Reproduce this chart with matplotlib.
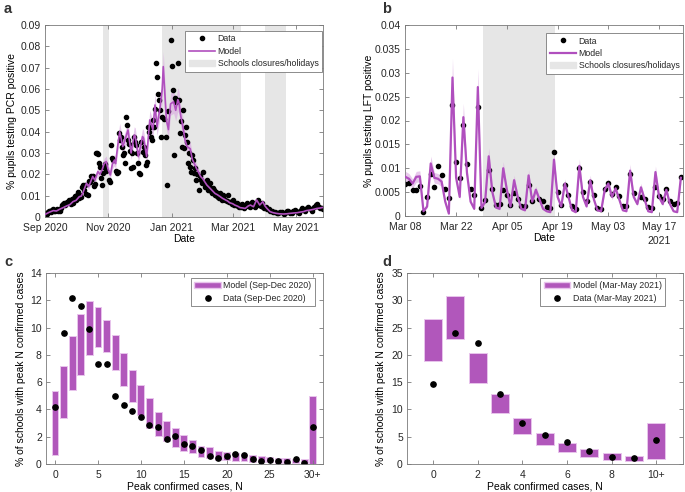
import matplotlib
matplotlib.use('Agg')
import matplotlib.pyplot as plt
import matplotlib.dates as mdates
from matplotlib.lines import Line2D
from matplotlib.patches import Patch
from matplotlib.ticker import FormatStrFormatter
from matplotlib.transforms import blended_transform_factory
import numpy as np
from datetime import datetime

plt.rcParams['font.family'] = ['Liberation Sans', 'DejaVu Sans']
plt.rcParams['font.size'] = 7.5
plt.rcParams['text.color'] = '#262626'

# ---- panel a: PCR positivity (days since 1 Sep 2020) ----
pcr_day = [0, 1, 2, 3, 4, 5, 6, 7, 8, 9, 10, 11, 12, 13, 14, 15, 16, 17, 18, 19,
           20, 21, 22, 23, 24, 25, 26, 27, 28, 29, 30, 31, 32, 33, 34, 35, 36, 37, 38, 39,
           40, 41, 42, 43, 44, 45, 46, 47, 48, 49, 50, 51, 52, 53, 54, 55, 56, 57, 58, 59,
           62, 63, 64, 65, 66, 68, 69, 70, 71, 72, 73, 74, 75, 76, 77, 78, 79, 80, 81, 82,
           83, 84, 85, 86, 87, 88, 89, 90, 91, 92, 93, 94, 95, 96, 97, 98, 99, 100, 101, 102,
           103, 104, 105, 106, 107, 108, 109, 110, 111, 112, 113, 115, 117, 118, 119, 121, 122, 123, 124, 125,
           126, 128, 129, 130, 131, 132, 133, 134, 135, 136, 137, 138, 139, 140, 141, 142, 143, 144, 145, 146,
           147, 148, 149, 150, 151, 152, 153, 154, 155, 156, 157, 158, 159, 160, 161, 162, 163, 164, 165, 166,
           167, 168, 169, 170, 171, 172, 173, 174, 175, 176, 177, 178, 179, 180, 181, 182, 183, 184, 185, 186,
           187, 188, 189, 190, 191, 192, 193, 194, 195, 196, 197, 198, 199, 200, 201, 202, 203, 204, 205, 206,
           207, 208, 209, 210, 211, 213, 214, 216, 217, 219, 220, 222, 224, 225, 227, 228, 230, 231, 233, 234,
           236, 238, 239, 241, 242, 244, 245, 247, 248, 250, 251, 253, 254, 256, 257, 259, 261, 262, 264, 265,
           267, 268]
pcr_val = [0.0012, 0.0017, 0.0015, 0.0022, 0.0030, 0.0027, 0.0025, 0.0032, 0.0036, 0.0030,
           0.0028, 0.0033, 0.0038, 0.0026, 0.0030, 0.0042, 0.0055, 0.0060, 0.0064, 0.0058,
           0.0066, 0.0072, 0.0070, 0.0080, 0.0077, 0.0062, 0.0085, 0.0067, 0.0090, 0.0098,
           0.0080, 0.0105, 0.0115, 0.0088, 0.0102, 0.0095, 0.0140, 0.0150, 0.0127, 0.0148,
           0.0110, 0.0103, 0.0170, 0.0166, 0.0190, 0.0180, 0.0190, 0.0145, 0.0153, 0.0302,
           0.0298, 0.0294, 0.0252, 0.0235, 0.0185, 0.0150, 0.0205, 0.0236, 0.0250, 0.0215,
           0.0175, 0.0163, 0.0338, 0.0275, 0.0265, 0.0215, 0.0205, 0.0210, 0.0392, 0.0360,
           0.0377, 0.0330, 0.0290, 0.0300, 0.0252, 0.0470, 0.0431, 0.0360, 0.0340, 0.0310,
           0.0228, 0.0298, 0.0236, 0.0373, 0.0350, 0.0338, 0.0300, 0.0255, 0.0208, 0.0202,
           0.0353, 0.0306, 0.0330, 0.0290, 0.0244, 0.0260, 0.0420, 0.0400, 0.0423, 0.0377,
           0.0360, 0.0455, 0.0420, 0.0505, 0.0720, 0.0658, 0.0577, 0.0548, 0.0502, 0.0373,
           0.0470, 0.0460, 0.0377, 0.0150, 0.0498, 0.0830, 0.0710, 0.0595, 0.0290, 0.0560,
           0.0540, 0.0723, 0.0548, 0.0392, 0.0450, 0.0330, 0.0502, 0.0322, 0.0384, 0.0423,
           0.0350, 0.0252, 0.0298, 0.0236, 0.0213, 0.0290, 0.0267, 0.0205, 0.0230, 0.0173,
           0.0200, 0.0127, 0.0190, 0.0175, 0.0158, 0.0213, 0.0160, 0.0142, 0.0150, 0.0173,
           0.0127, 0.0140, 0.0158, 0.0120, 0.0111, 0.0134, 0.0125, 0.0103, 0.0119, 0.0098,
           0.0095, 0.0090, 0.0111, 0.0088, 0.0082, 0.0103, 0.0085, 0.0080, 0.0075, 0.0103,
           0.0070, 0.0072, 0.0068, 0.0062, 0.0080, 0.0058, 0.0064, 0.0055, 0.0067, 0.0050,
           0.0048, 0.0056, 0.0045, 0.0061, 0.0050, 0.0042, 0.0052, 0.0058, 0.0064, 0.0050,
           0.0056, 0.0045, 0.0060, 0.0072, 0.0055, 0.0048, 0.0065, 0.0062, 0.0080, 0.0058,
           0.0061, 0.0050, 0.0067, 0.0048, 0.0042, 0.0045, 0.0038, 0.0036, 0.0030, 0.0030,
           0.0022, 0.0025, 0.0018, 0.0020, 0.0022, 0.0025, 0.0015, 0.0020, 0.0028, 0.0030,
           0.0018, 0.0020, 0.0026, 0.0033, 0.0028, 0.0025, 0.0020, 0.0035, 0.0040, 0.0033,
           0.0028, 0.0042, 0.0048, 0.0036, 0.0030, 0.0048, 0.0055, 0.0060, 0.0048, 0.0042,
           0.0040, 0.0036]

model_a_day = [0, 4, 8, 11, 14, 18, 21, 24, 27, 30, 33, 35, 37, 40, 42, 44, 46, 48, 51, 53,
               55, 57, 59, 61, 63, 65, 67, 68, 70, 72, 75, 77, 80, 83, 86, 87, 90, 94, 95, 98,
               101, 104, 106, 108, 111, 113, 114, 117, 119, 121, 124, 126, 128, 129, 131, 133, 135, 137, 140, 142,
               144, 146, 148, 150, 152, 154, 156, 158, 160, 162, 164, 166, 169, 171, 174, 176, 178, 181, 183, 186,
               188, 191, 193, 196, 198, 201, 204, 207, 210, 212, 214, 217, 220, 223, 226, 230, 233, 236, 240, 243,
               246, 249, 252, 256, 259, 262, 265, 268]
model_a_val = [0.0012, 0.0022, 0.0030, 0.0028, 0.0036, 0.0045, 0.0052, 0.0058, 0.0072, 0.0078,
               0.0095, 0.0098, 0.0120, 0.0158, 0.0142, 0.0165, 0.0190, 0.0173, 0.0213, 0.0200,
               0.0220, 0.0250, 0.0260, 0.0220, 0.0197, 0.0250, 0.0267, 0.0250, 0.0330, 0.0400,
               0.0330, 0.0360, 0.0408, 0.0300, 0.0384, 0.0380, 0.0283, 0.0377, 0.0370, 0.0283,
               0.0455, 0.0410, 0.0525, 0.0423, 0.0517, 0.0600, 0.0705, 0.0455, 0.0410, 0.0530,
               0.0540, 0.0500, 0.0550, 0.0540, 0.0470, 0.0423, 0.0360, 0.0330, 0.0320, 0.0270,
               0.0250, 0.0228, 0.0210, 0.0190, 0.0180, 0.0165, 0.0150, 0.0140, 0.0130, 0.0120,
               0.0110, 0.0105, 0.0095, 0.0088, 0.0080, 0.0075, 0.0067, 0.0062, 0.0056, 0.0050,
               0.0044, 0.0042, 0.0040, 0.0052, 0.0056, 0.0048, 0.0080, 0.0056, 0.0072, 0.0052,
               0.0040, 0.0025, 0.0020, 0.0017, 0.0015, 0.0014, 0.0015, 0.0017, 0.0019, 0.0020,
               0.0023, 0.0025, 0.0030, 0.0033, 0.0036, 0.0040, 0.0042, 0.0045]
model_a_ci = 0.10  # relative half-width of the model band

closures_a = [(datetime(2020, 10, 27), datetime(2020, 11, 2)),
              (datetime(2020, 12, 23), datetime(2021, 3, 9)),
              (datetime(2021, 4, 1), datetime(2021, 4, 21))]
ticks_a = [datetime(2020, 9, 1), datetime(2020, 11, 1), datetime(2021, 1, 1),
           datetime(2021, 3, 1), datetime(2021, 5, 1)]
ticklabels_a = ['Sep 2020', 'Nov 2020', 'Jan 2021', 'Mar 2021', 'May 2021']

# ---- panel b: LFT positivity (days since 8 Mar 2021) ----
lft_day = [0, 1, 2, 3, 4, 5, 6, 7, 8, 9, 10, 11, 12, 13, 14, 15, 16, 17, 18, 19,
           20, 21, 22, 23, 24, 25, 26, 27, 28, 29, 30, 31, 32, 33, 34, 35, 37, 38, 39, 40,
           41, 42, 43, 44, 45, 46, 47, 48, 49, 50, 51, 52, 53, 54, 55, 56, 57, 58, 59, 60,
           61, 62, 63, 65, 66, 67, 68, 69, 70, 71, 72, 73, 74, 75, 76]
lft_val = [0.0068, 0.0070, 0.0054, 0.0054, 0.0063, 0.0008, 0.0040, 0.0088, 0.0061, 0.0104,
           0.0086, 0.0056, 0.0038, 0.0232, 0.0113, 0.0079, 0.0191, 0.0109, 0.0056, 0.0044,
           0.0228, 0.0016, 0.0034, 0.0096, 0.0057, 0.0024, 0.0025, 0.0055, 0.0043, 0.0023,
           0.0049, 0.0035, 0.0020, 0.0020, 0.0064, 0.0031, 0.0035, 0.0032, 0.0019, 0.0017,
           0.0135, 0.0050, 0.0023, 0.0064, 0.0043, 0.0020, 0.0015, 0.0100, 0.0050, 0.0031,
           0.0072, 0.0044, 0.0017, 0.0015, 0.0057, 0.0069, 0.0046, 0.0060, 0.0041, 0.0020,
           0.0021, 0.0089, 0.0049, 0.0040, 0.0036, 0.0018, 0.0016, 0.0061, 0.0042, 0.0035,
           0.0056, 0.0031, 0.0026, 0.0027, 0.0082]
model_b_val = [0.0082, 0.0078, 0.0068, 0.0082, 0.0083, 0.0010, 0.0020, 0.0110, 0.0080, 0.0078,
               0.0072, 0.0030, 0.0005, 0.0290, 0.0080, 0.0040, 0.0207, 0.0090, 0.0030, 0.0015,
               0.0270, 0.0017, 0.0030, 0.0125, 0.0050, 0.0018, 0.0015, 0.0100, 0.0055, 0.0020,
               0.0075, 0.0040, 0.0015, 0.0012, 0.0085, 0.0030, 0.0055, 0.0035, 0.0015, 0.0010,
               0.0008, 0.0118, 0.0040, 0.0020, 0.0068, 0.0040, 0.0012, 0.0008, 0.0105, 0.0040,
               0.0020, 0.0075, 0.0035, 0.0012, 0.0010, 0.0055, 0.0068, 0.0040, 0.0058, 0.0035,
               0.0012, 0.0010, 0.0095, 0.0040, 0.0025, 0.0060, 0.0035, 0.0010, 0.0008, 0.0092,
               0.0040, 0.0025, 0.0055, 0.0025, 0.0010, 0.0008, 0.0080]
model_b_ci = 0.14
closure_b = (21.4, 41.3)
ticks_b = [0, 14, 28, 42, 56, 70]
ticklabels_b = ['Mar 08', 'Mar 22', 'Apr 05', 'Apr 19', 'May 03', 'May 17']

# ---- panel c: peak size distribution Sep-Dec 2020 ----
n_c = list(range(31))
model_c_lo = [0.68, 3.37, 5.40, 6.55, 8.02, 8.60, 8.20, 6.92, 5.70, 4.55,
              3.62, 2.64, 2.03, 1.66, 1.25, 0.93, 0.78, 0.51, 0.44, 0.32,
              0.27, 0.24, 0.20, 0.17, 0.14, 0.12, 0.10, 0.08, 0.07, 0.05, 0.00]
model_c_hi = [5.38, 7.20, 9.36, 11.00, 11.93, 11.50, 10.56, 9.49, 8.14, 6.87,
              5.82, 4.84, 3.81, 3.18, 2.66, 2.15, 1.78, 1.34, 1.22, 0.98,
              0.88, 0.80, 0.73, 0.65, 0.55, 0.50, 0.45, 0.42, 0.38, 0.35, 5.00]
data_c = [4.20, 9.63, 12.20, 11.55, 9.90, 7.30, 7.30, 5.00, 4.30, 3.90,
          3.45, 2.85, 2.70, 1.80, 2.05, 1.45, 1.35, 1.00, 0.55, 0.45,
          0.60, 0.70, 0.65, 0.40, 0.25, 0.28, 0.25, 0.15, 0.38, 0.08, 2.70]
ticks_c = [0, 5, 10, 15, 20, 25, 30]
ticklabels_c = ['0', '5', '10', '15', '20', '25', '30+']

# ---- panel d: peak size distribution Mar-May 2021 ----
n_d = list(range(11))
model_d_lo = [18.8, 22.97, 14.8, 9.35, 5.5, 3.42, 2.14, 1.28, 0.73, 0.55, 0.98]
model_d_hi = [26.6, 30.85, 20.4, 12.83, 8.37, 5.62, 3.9, 2.8, 2.0, 1.53, 7.5]
data_d = [14.66, 24.0, 22.2, 12.9, 7.5, 5.38, 4.1, 2.44, 1.34, 1.1, 4.46]
ticks_d = [0, 2, 4, 6, 8, 10]
ticklabels_d = ['0', '2', '4', '6', '8', '10+']

purple = '#B04FBE'
box_purple = '#B157BB'
band = '#D9A6E0'
shade = '#E6E6E6'
axcol = '#7a7a7a'


def style(ax):
    for s in ax.spines.values():
        s.set_color(axcol)
        s.set_linewidth(0.6)
    ax.tick_params(direction='in', length=2.8, width=0.6, colors=axcol,
                   labelcolor='#262626', top=True, right=True, labelsize=7.5, pad=3)
    ax.tick_params(axis='x', pad=4.5)


def legend(ax, handles, labels, anchor):
    lg = ax.legend(handles, labels, loc='upper right', bbox_to_anchor=anchor,
                   borderaxespad=0, fontsize=6.3, fancybox=False, framealpha=1,
                   edgecolor=axcol, handlelength=3.0, handletextpad=0.3,
                   labelspacing=0.38, borderpad=0.4)
    lg.get_frame().set_linewidth(0.6)


fig = plt.figure(figsize=(6.85, 4.92), dpi=100)
ax_a = fig.add_axes([45 / 685, 1 - 217 / 492, 278 / 685, 192 / 492])
ax_b = fig.add_axes([405 / 685, 1 - 216 / 492, 278 / 685, 191 / 492])
ax_c = fig.add_axes([46 / 685, 1 - 464 / 492, 277 / 685, 191 / 492])
ax_d = fig.add_axes([407 / 685, 1 - 464 / 492, 276 / 685, 191 / 492])

# panel a
base_a = mdates.date2num(datetime(2020, 9, 1))
for s, e in closures_a:
    ax_a.axvspan(mdates.date2num(s), mdates.date2num(e), color=shade, lw=0, zorder=0)
mx = base_a + np.array(model_a_day)
mv = np.array(model_a_val)
ax_a.fill_between(mx, mv * (1 - model_a_ci), mv * (1 + model_a_ci), color=band, alpha=0.6, lw=0, zorder=1)
ax_a.plot(base_a + np.array(pcr_day), pcr_val, 'o', color='black', ms=3, zorder=2)
ax_a.plot(mx, mv, color=purple, lw=1.2, zorder=3)
ax_a.set_xlim(base_a, base_a + 268)
ax_a.set_ylim(0, 0.09)
ax_a.set_yticks(np.arange(0, 0.0901, 0.01))
ax_a.yaxis.set_major_formatter(FormatStrFormatter('%g'))
ax_a.set_xticks([mdates.date2num(t) for t in ticks_a])
ax_a.set_xticklabels(ticklabels_a)
ax_a.set_xlabel('Date')
ax_a.set_ylabel('% pupils testing PCR positive')
style(ax_a)
h = [Line2D([], [], marker='o', ls='none', color='black', ms=3),
     Line2D([], [], color=purple, lw=1.2), Patch(color=shade)]
legend(ax_a, h, ['Data', 'Model', 'Schools closures/holidays'], (0.996, 0.969))

# panel b
base_b = mdates.date2num(datetime(2021, 3, 8))
ax_b.axvspan(base_b + closure_b[0], base_b + closure_b[1], color=shade, lw=0, zorder=0)
bx = base_b + np.arange(len(model_b_val))
bv = np.array(model_b_val)
ax_b.fill_between(bx, bv * (1 - model_b_ci), bv * (1 + model_b_ci), color=band, alpha=0.6, lw=0, zorder=1)
ax_b.plot(base_b + np.array(lft_day), lft_val, 'o', color='black', ms=3, zorder=2)
ax_b.plot(bx, bv, color=purple, lw=1.6, zorder=3)
ax_b.set_xlim(base_b - 0.1, base_b + 76.6)
ax_b.set_ylim(0, 0.04)
ax_b.set_yticks(np.arange(0, 0.0401, 0.005))
ax_b.yaxis.set_major_formatter(FormatStrFormatter('%g'))
ax_b.set_xticks(base_b + np.array(ticks_b))
ax_b.set_xticklabels(ticklabels_b)
ax_b.set_xlabel('Date')
ax_b.set_ylabel('% pupils testing LFT positive')
tr = blended_transform_factory(ax_b.transData, ax_b.transAxes)
ax_b.text(base_b + 70, -0.13, '2021', transform=tr, ha='center', va='center', fontsize=7.5)
style(ax_b)
h = [Line2D([], [], marker='o', ls='none', color='black', ms=3),
     Line2D([], [], color=purple, lw=1.6), Patch(color=shade)]
legend(ax_b, h, ['Data', 'Model', 'Schools closures/holidays'], (1.0, 0.958))

# panels c and d
for ax, n, lo, hi, dat, ticks, tl, xlim, ylim, yt, period, anchor in [
        (ax_c, n_c, model_c_lo, model_c_hi, data_c, ticks_c, ticklabels_c, (-1.05, 31.2), (0, 14),
         np.arange(0, 15, 2), 'Sep-Dec 2020', (0.971, 0.974)),
        (ax_d, n_d, model_d_lo, model_d_hi, data_d, ticks_d, ticklabels_d, (-1.17, 11.2), (0, 35),
         np.arange(0, 36, 5), 'Mar-May 2021', (0.936, 0.974))]:
    lo = np.array(lo)
    hi = np.array(hi)
    ax.bar(n, hi - lo, bottom=lo, width=0.8, color=box_purple, edgecolor='#E8C4EC', linewidth=0.7, zorder=1)
    ax.plot(n, dat, 'o', color='black', ms=3.8, zorder=2)
    ax.set_xlim(*xlim)
    ax.set_ylim(*ylim)
    ax.set_yticks(yt)
    ax.set_xticks(ticks)
    ax.set_xticklabels(tl)
    ax.set_xlabel('Peak confirmed cases, N')
    ax.set_ylabel('% of schools with peak N confirmed cases')
    style(ax)
    h = [Patch(facecolor=box_purple, edgecolor='#E8C4EC'),
         Line2D([], [], marker='o', ls='none', color='black', ms=3.8)]
    legend(ax, h, ['Model (%s)' % period, 'Data (%s)' % period], anchor)

ax_a.yaxis.set_label_coords(-0.10, 0.5)
ax_b.yaxis.set_label_coords(-0.113, 0.5)
ax_c.yaxis.set_label_coords(-0.072, 0.5)
ax_d.yaxis.set_label_coords(-0.075, 0.5)
ax_a.xaxis.set_label_coords(0.5, -0.09)
ax_b.xaxis.set_label_coords(0.5, -0.09)
ax_c.xaxis.set_label_coords(0.5, -0.09)
ax_d.xaxis.set_label_coords(0.5, -0.09)

for x, y, s in [(4, 9, 'a'), (382, 9, 'b'), (4, 262, 'c'), (382, 262, 'd')]:
    fig.text(x / 685, 1 - y / 492, s, fontsize=10.5, fontweight='bold', color='#333333', va='center')

fig.savefig('out.png', dpi=100)
